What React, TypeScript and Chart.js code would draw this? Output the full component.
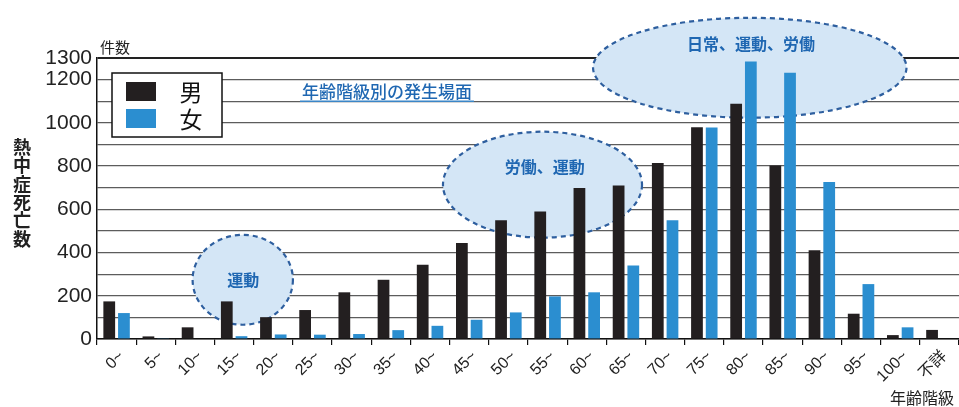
import React, { useEffect, useRef } from "react";
import { Chart, registerables } from "chart.js";
Chart.register(...registerables);

const categories = ["0~", "5~", "10~", "15~", "20~", "25~", "30~", "35~", "40~", "45~", "50~", "55~", "60~", "65~", "70~", "75~", "80~", "85~", "90~", "95~", "100~", "不詳"];
const maleDeaths = [174, 12, 54, 174, 101, 134, 216, 274, 344, 444, 549, 590, 698, 710, 814, 980, 1088, 803, 411, 117, 18, 42];
const femaleDeaths = [120, 2, 0, 13, 21, 20, 23, 41, 61, 89, 123, 197, 216, 340, 549, 978, 1284, 1232, 726, 254, 54, 0];
const seriesLabels = ["男", "女"];
const yTickValues = [0, 200, 400, 600, 800, 1000, 1200, 1300];

// Annotation ellipses: centre in (category index, value), radii in (categories, value units)
const ellipseCx = [3.22, 10.87, 16.16];
const ellipseCy = [274, 714, 1255];
const ellipseRx = [1.28, 2.54, 4.0];
const ellipseRy = [208, 245, 231];
const ellipseText = ["運動", "労働、運動", "日常、運動、労働"];
const ellipseTextX = [3.23, 10.93, 16.19];
const ellipseTextY = [274, 797, 1366];

const chartTitle = "年齢階級別の発生場面";
const yAxisTitle = "熱中症死亡数";
const yUnit = "件数";
const xAxisTitle = "年齢階級";

const MALE = "#231f20";
const FEMALE = "#2b8ed0";
const BLUE_TEXT = "#1f67b2";
const JP = "'Noto Sans CJK JP'";

const decorPlugin = {
  id: "decor",
  beforeDatasetsDraw(chart: any) {
    const { ctx } = chart;
    const x = chart.scales.x;
    const y = chart.scales.y;
    const catW = x.getPixelForValue(1) - x.getPixelForValue(0);
    ctx.save();
    for (let i = 0; i < ellipseCx.length; i++) {
      const cx = x.getPixelForValue(ellipseCx[i]);
      const cy = y.getPixelForValue(ellipseCy[i]);
      const rx = catW * ellipseRx[i];
      const ry = Math.abs(y.getPixelForValue(0) - y.getPixelForValue(ellipseRy[i]));
      ctx.beginPath();
      ctx.ellipse(cx, cy, rx, ry, 0, 0, Math.PI * 2);
      ctx.fillStyle = "#d4e6f6";
      ctx.fill();
      ctx.setLineDash([5, 4]);
      ctx.lineWidth = 2.2;
      ctx.strokeStyle = "#2e5f9f";
      ctx.stroke();
    }
    ctx.restore();
  },
  afterDatasetsDraw(chart: any) {
    const { ctx } = chart;
    const x = chart.scales.x;
    const y = chart.scales.y;
    ctx.save();
    // ellipse labels
    ctx.fillStyle = BLUE_TEXT;
    ctx.textAlign = "center";
    ctx.textBaseline = "middle";
    ctx.font = `bold 16px ${JP}`;
    for (let i = 0; i < ellipseText.length; i++) {
      ctx.fillText(ellipseText[i], x.getPixelForValue(ellipseTextX[i]), y.getPixelForValue(ellipseTextY[i]));
    }
    // title with underline
    ctx.font = `500 17px ${JP}`;
    const tx = x.getPixelForValue(6.9);
    const ty = y.getPixelForValue(1100) - 10;
    ctx.fillText(chartTitle, tx, ty);
    const tw = ctx.measureText(chartTitle).width;
    ctx.beginPath();
    ctx.moveTo(tx - tw / 2 - 2, y.getPixelForValue(1100));
    ctx.lineTo(tx + tw / 2 + 2, y.getPixelForValue(1100));
    ctx.strokeStyle = "#3a86c8";
    ctx.lineWidth = 1.5;
    ctx.stroke();

    // legend box
    const lx = 112, ly = 73, lw = 110, lh = 64;
    ctx.fillStyle = "#fff";
    ctx.fillRect(lx, ly, lw, lh);
    ctx.strokeStyle = "#111";
    ctx.lineWidth = 1.5;
    ctx.strokeRect(lx, ly, lw, lh);
    const colors = [MALE, FEMALE];
    ctx.font = `23px ${JP}`;
    for (let i = 0; i < 2; i++) {
      const sy = ly + 9 + i * 27;
      ctx.fillStyle = chart.data.datasets[i].backgroundColor || colors[i];
      ctx.fillRect(lx + 14, sy, 30, 19);
      ctx.fillStyle = "#111";
      ctx.textAlign = "center";
      ctx.fillText(chart.data.datasets[i].label, lx + 79, sy + 10);
    }

    // axis titles
    ctx.fillStyle = "#222";
    ctx.font = `bold 18px ${JP}`;
    for (let i = 0; i < yAxisTitle.length; i++) {
      ctx.fillText(yAxisTitle[i], 22, 147 + i * 18.4);
    }
    ctx.font = `15px ${JP}`;
    ctx.fillText(yUnit, 115, 47);
    ctx.font = `16px ${JP}`;
    ctx.fillText(xAxisTitle, 922, 398);
    ctx.restore();
  },
};

export default function App() {
  const ref = useRef<HTMLCanvasElement | null>(null);
  useEffect(() => {
    if (!ref.current) return;
    const chart = new Chart(ref.current, {
      type: "bar",
      data: {
        labels: categories,
        datasets: [
          { label: seriesLabels[0], data: maleDeaths, backgroundColor: MALE, categoryPercentage: 0.75, barPercentage: 0.8 },
          { label: seriesLabels[1], data: femaleDeaths, backgroundColor: FEMALE, categoryPercentage: 0.75, barPercentage: 0.8 },
        ],
      },
      options: {
        responsive: false,
        animation: false,
        layout: { padding: { top: 58, left: 0, right: 0, bottom: 0 } },
        plugins: { legend: { display: false }, tooltip: { enabled: false } },
        scales: {
          x: {
            offset: true,
            grid: { offset: true, drawOnChartArea: false, drawTicks: true, tickLength: 6, color: "#111", lineWidth: 1.2 },
            border: { color: "#111", width: 1.5 },
            ticks: {
              autoSkip: false,
              minRotation: 45,
              maxRotation: 45,
              padding: 2,
              labelOffset: 5,
              color: "#222",
              font: { family: "'Liberation Sans', " + JP, size: 16 },
            },
            afterFit: (s: any) => { s.height = 68; },
          },
          y: {
            min: 0,
            max: 1300,
            afterBuildTicks: (s: any) => {
              const t: any[] = [];
              for (let v = 0; v <= 1300; v += 100) t.push({ value: v });
              s.ticks = t;
            },
            grid: {
              drawTicks: false,
              color: (c: any) => (c.tick && c.tick.value === 1300 ? "#222" : "#5c5c5c"),
              lineWidth: (c: any) => (c.tick && c.tick.value === 1300 ? 2 : 1.2),
            },
            border: { color: "#111", width: 1.5 },
            ticks: {
              autoSkip: false,
              padding: 5,
              color: "#222",
              font: { family: "'Liberation Sans'", size: 21 },
              callback: (v: any) => (yTickValues.includes(Number(v)) ? String(v) : ""),
            },
            afterFit: (s: any) => { s.width = 97; },
          },
        },
      },
      plugins: [decorPlugin],
    });
    return () => chart.destroy();
  }, []);
  return (
    <div style={{ position: "absolute", left: 0, top: 0, width: 959, height: 407, background: "#fff" }}>
      <canvas ref={ref} width={959} height={407} />
    </div>
  );
}
